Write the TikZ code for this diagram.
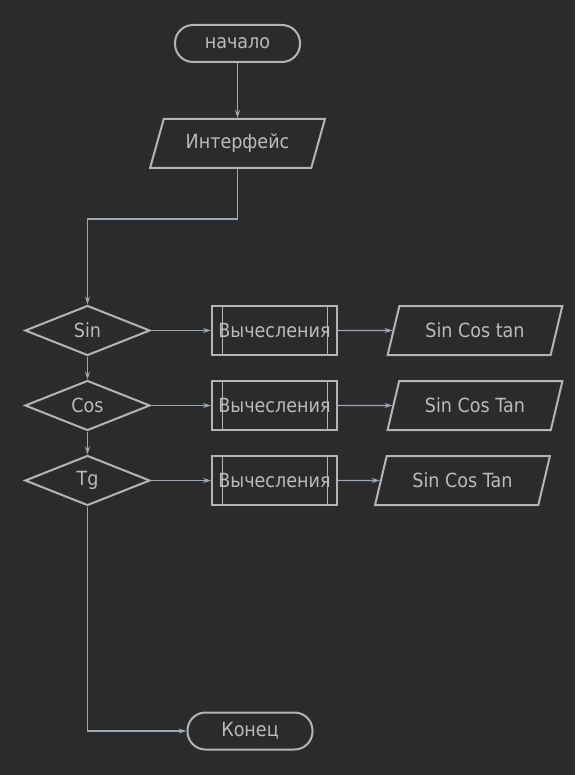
\documentclass[tikz,border=0pt]{standalone}
\usepackage{fontspec}
\setmainfont[FakeStretch=0.9]{DejaVu Sans}
\usetikzlibrary{shapes.geometric,arrows.meta}
\definecolor{bg}{HTML}{2B2B2B}
\definecolor{shapec}{HTML}{B4B4B4}
\definecolor{txtc}{HTML}{BBBBBB}
\definecolor{linkc}{HTML}{9AA8B8}
\tikzset{
    base/.style={draw=shapec, line width=2pt, text=txtc, inner sep=0pt,
        font=\fontsize{19.5}{22}\selectfont},
    term/.style={base, rectangle, rounded corners=18pt,
        minimum width=125pt, minimum height=37pt},
    io/.style={base, trapezium, trapezium left angle=63, trapezium right angle=117,
        trapezium stretches=true, minimum width=175pt, minimum height=49pt},
    cond/.style={base, diamond, minimum width=125pt, minimum height=50pt},
    proc/.style={base, rectangle, minimum width=125pt, minimum height=49pt,
        path picture={
            \draw[shapec, line width=1pt]
                ([xshift=10pt]path picture bounding box.north west) -- ([xshift=10pt]path picture bounding box.south west)
                ([xshift=-10pt]path picture bounding box.north east) -- ([xshift=-10pt]path picture bounding box.south east);
        }},
    flow/.style={draw=linkc, line width=1.2pt, -{Stealth[length=8pt,width=5pt]}}
}
\begin{document}
\begin{tikzpicture}[x=1pt, y=-1pt]
        \fill[bg] (0, 0) rectangle (575, 775);
        \useasboundingbox (0, 0) rectangle (575, 775);
        \node[term] (start) at (237.5, 43.5) {начало};
        \node[io] (iface) at (237.5, 143.5) {Интерфейс};
        \draw[flow] (start) -- (iface);
        \foreach \y\name\lbl\ox\out in {330.5/sin/Sin/475/Sin Cos tan, 405.5/cos/Cos/475/Sin Cos Tan, 480.5/tg/Tg/462.5/Sin Cos Tan} {
            \node[cond] (\name) at (87.5, \y) {\lbl};
            \node[proc] (p\name) at (274.5, \y) {Вычесления};
            \node[io] (o\name) at (\ox, \y) {\out};
            \draw[flow] (\name) -- (p\name);
            \draw[flow] (p\name) -- (o\name);
        }
        \draw[flow] (iface.south) -- ++(0, 50) -| (sin.north);
        \draw[flow] (sin) -- (cos);
        \draw[flow] (cos) -- (tg);
        \node[term] (end) at (250, 731) {Конец};
        \draw[flow] (tg.south) |- (end.west);
    \end{tikzpicture}
\end{document}
